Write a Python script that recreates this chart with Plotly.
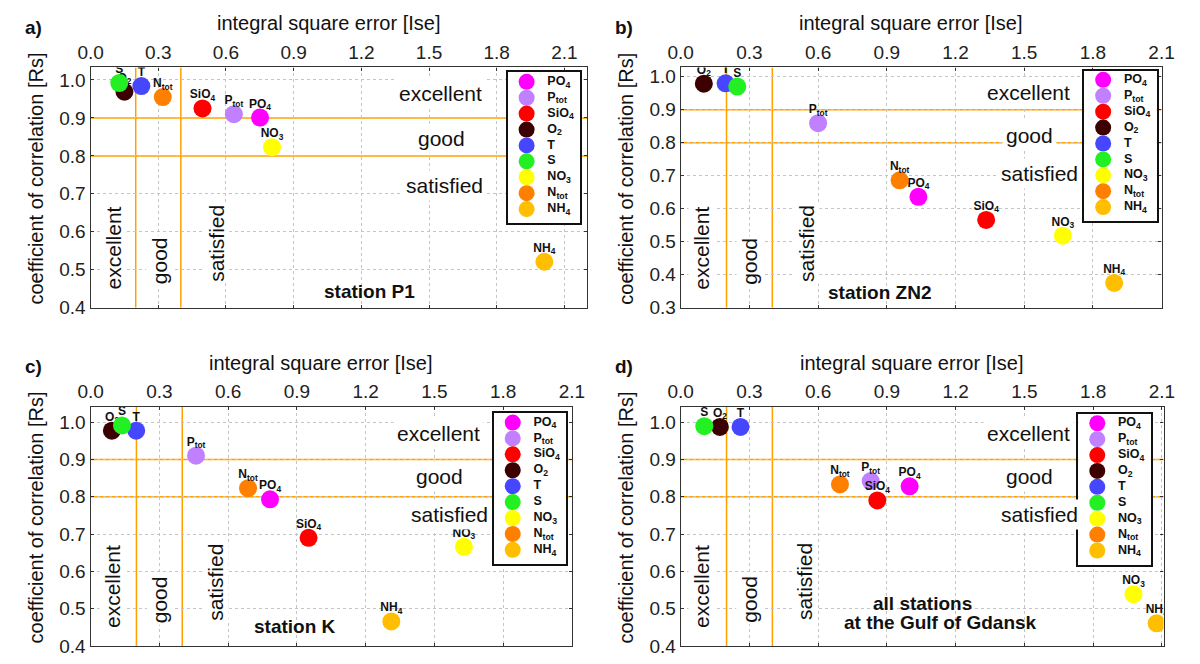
import plotly.graph_objects as go

# ---------------- data ----------------
species = ["PO<sub>4</sub>", "P<sub>tot</sub>", "SiO<sub>4</sub>", "O<sub>2</sub>", "T", "S",
           "NO<sub>3</sub>", "N<sub>tot</sub>", "NH<sub>4</sub>"]
colors = ["#ff00ff", "#c080ff", "#ff0000", "#3d0000", "#4646ff", "#22f022",
          "#ffff00", "#ff8000", "#ffbf00"]

# station P1  (a)
ise_p1 = [0.751, 0.635, 0.496, 0.150, 0.225, 0.127, 0.804, 0.320, 2.011]
rs_p1 = [0.901, 0.910, 0.925, 0.969, 0.984, 0.992, 0.823, 0.955, 0.521]
# station ZN2 (b)
ise_zn2 = [1.038, 0.600, 1.334, 0.101, 0.196, 0.247, 1.669, 0.956, 1.893]
rs_zn2 = [0.636, 0.859, 0.566, 0.979, 0.980, 0.970, 0.518, 0.686, 0.375]
# station K (c)
ise_k = [0.783, 0.460, 0.951, 0.093, 0.199, 0.137, 1.629, 0.687, 1.312]
rs_k = [0.793, 0.910, 0.690, 0.977, 0.977, 0.991, 0.666, 0.823, 0.466]
# all stations (d)
ise_all = [0.999, 0.829, 0.858, 0.171, 0.261, 0.103, 1.976, 0.695, 2.077]
rs_all = [0.828, 0.842, 0.790, 0.987, 0.987, 0.989, 0.539, 0.833, 0.461]

x_ticks = [0.0, 0.3, 0.6, 0.9, 1.2, 1.5, 1.8, 2.1]
y_ticks_a = [0.4, 0.5, 0.6, 0.7, 0.8, 0.9, 1.0]
y_ticks_b = [0.3, 0.4, 0.5, 0.6, 0.7, 0.8, 0.9, 1.0]
rs_limits = [0.9, 0.8]      # excellent / good thresholds of Rs
ise_limits = [0.2, 0.4]     # excellent / good thresholds of Ise

W, H = 1200, 664
FONT = "Liberation Sans, Arial, sans-serif"
ORANGE = "#ffa000"
INK = "#111"

panels = [
    dict(ise=ise_p1, rs=rs_p1, tag="a)",
         xpx=(79.3, 586.7), ypx=(67.7, 312.3), xr=[0, 2.2], yr=[0.4, 1.033], yt=y_ticks_a,
         leg=(505.7, 72.8), zone=[(1.55, 0.892), (1.553, 0.705), (1.567, 0.509)],
         vz=[0.10, 0.305, 0.555], st=[("station P1", 1.238, 0.068)]),
    dict(ise=ise_zn2, rs=rs_zn2, tag="b)",
         xpx=(682.5, 1174), ypx=(67.7, 312.3), xr=[0, 2.1], yr=[0.3, 1.028], yt=y_ticks_b,
         leg=(1095, 70.8), zone=[(1.52, 0.895), (1.525, 0.718), (1.569, 0.557)],
         vz=[0.09, 0.302, 0.547], st=[("station ZN2", 0.866, 0.065)]),
    dict(ise=ise_k, rs=rs_k, tag="c)",
         xpx=(79.3, 571.3), ypx=(413.2, 657.0), xr=[0, 2.1], yr=[0.4, 1.041], yt=y_ticks_a,
         leg=(491.5, 419.8), zone=[(1.518, 0.887), (1.522, 0.710), (1.567, 0.551)],
         vz=[0.098, 0.302, 0.547], st=[("station K", 0.893, 0.084)]),
    dict(ise=ise_all, rs=rs_all, tag="d)",
         xpx=(682.5, 1176), ypx=(413.2, 657.0), xr=[0, 2.107], yr=[0.4, 1.041], yt=y_ticks_a,
         leg=(1089, 420.5), zone=[(1.518, 0.887), (1.522, 0.710), (1.567, 0.551)],
         vz=[0.093, 0.299, 0.543],
         st=[("all stations", 1.053, 0.177), ("at the Gulf of Gdansk", 1.134, 0.098)]),
]

LEG_W, LEG_H = 74.0, 153.5      # legend box size in px
LEG_ROW = 16.2                  # px between legend rows

fig = go.Figure()
layout = dict(width=W, height=H, margin=dict(l=0, r=0, t=0, b=0),
              paper_bgcolor="white", plot_bgcolor="white",
              font=dict(family=FONT, color=INK), showlegend=False)
annotations = []
shapes = []


def ann(**kw):
    d = dict(showarrow=False, xanchor="center", yanchor="middle")
    d.update(kw)
    annotations.append(d)


for k, p in enumerate(panels):
    sx = "" if k == 0 else str(k + 1)
    xa, ya = "x" + sx, "y" + sx
    x0, x1 = p["xpx"]
    ytop, ybot = p["ypx"]
    y0d, y1d = p["yr"]

    # ----- data points (circle, then its label) -----
    for i, name in enumerate(species):
        fig.add_trace(go.Scatter(
            x=[p["ise"][i]], y=[p["rs"][i]], mode="markers",
            marker=dict(size=18, color=colors[i], line=dict(width=0)),
            name=name, xaxis=xa, yaxis=ya, hoverinfo="skip"))
        fig.add_trace(go.Scatter(
            x=[p["ise"][i]], y=[p["rs"][i]], mode="markers+text",
            text=["<b>" + name + "</b>"], textposition="top center",
            textfont=dict(size=12, color=INK, family=FONT),
            marker=dict(size=9.6, color=colors[i], opacity=0),
            name=name + " label", xaxis=xa, yaxis=ya, hoverinfo="skip"))

    common = dict(showgrid=True, gridcolor="#c4c4c4", griddash="dot", gridwidth=1,
                  showline=True, linecolor="#333", linewidth=1.2, mirror="ticks",
                  ticks="inside", ticklen=3, tickcolor="#333", zeroline=False,
                  tickfont=dict(size=19, color="#222", family=FONT), fixedrange=True)
    layout["xaxis" + sx] = dict(
        domain=[x0 / W, x1 / W], range=p["xr"], anchor=ya, side="top",
        tickvals=x_ticks, ticktext=["%.1f" % v for v in x_ticks], **common)
    layout["yaxis" + sx] = dict(
        domain=[1 - ybot / H, 1 - ytop / H], range=p["yr"], anchor=xa,
        tickvals=p["yt"], ticktext=["%.1f" % v for v in p["yt"]], **common)

    # ----- legend box (inset axes) -----
    lx = "x" + str(5 + k)
    ly = "y" + str(5 + k)
    lx0, ly0 = p["leg"]
    rows = list(range(len(species)))
    pad_top = 9.5 / LEG_ROW
    pad_bot = (LEG_H - 9.5) / LEG_ROW - (len(species) - 1)
    box = dict(showgrid=False, zeroline=False, showticklabels=False, ticks="",
               showline=True, mirror=True, linecolor=INK, linewidth=1.5, fixedrange=True)
    layout["xaxis" + str(5 + k)] = dict(domain=[lx0 / W, (lx0 + LEG_W) / W], range=[0, 1],
                                        anchor=ly, **box)
    layout["yaxis" + str(5 + k)] = dict(domain=[1 - (ly0 + LEG_H) / H, 1 - ly0 / H],
                                        range=[len(species) - 1 + pad_bot, -pad_top],
                                        anchor=lx, **box)
    fig.add_trace(go.Scatter(
        x=[19.3 / LEG_W] * len(species), y=rows, mode="markers",
        marker=dict(size=16, color=colors, line=dict(width=0)),
        xaxis=lx, yaxis=ly, hoverinfo="skip", cliponaxis=False, name="legend"))
    fig.add_trace(go.Scatter(
        x=[40.5 / LEG_W] * len(species), y=rows, mode="text",
        text=["<b>" + s + "</b>" for s in species], textposition="middle right",
        textfont=dict(size=12.5, color=INK, family=FONT),
        xaxis=lx, yaxis=ly, hoverinfo="skip", cliponaxis=False, name="legend text"))

    # ----- threshold lines -----
    for v in rs_limits:
        shapes.append(dict(type="line", xref=xa, yref=ya,
                           x0=p["xr"][0], x1=p["xr"][1], y0=v, y1=v, layer="below",
                           line=dict(color=ORANGE, width=1.5)))
    for v in ise_limits:
        shapes.append(dict(type="line", xref=xa, yref=ya,
                           x0=v, x1=v, y0=y0d, y1=y1d, layer="below",
                           line=dict(color=ORANGE, width=1.5)))

    def ydom(f):
        return y0d + f * (y1d - y0d)

    # zone labels (horizontal)
    for (zx, zy), txt in zip(p["zone"], ["excellent", "good", "satisfied"]):
        ann(text=txt, x=zx, y=ydom(zy), xref=xa, yref=ya, bgcolor="white", borderpad=3,
            font=dict(size=21, color=INK, family=FONT))
    # zone labels (vertical)
    for vx, vy, txt in zip(p["vz"], [0.247, 0.195, 0.269], ["excellent", "good", "satisfied"]):
        ann(text=txt, x=vx, y=ydom(vy), xref=xa, yref=ya, textangle=-90, bgcolor="white",
            font=dict(size=21, color=INK, family=FONT))
    # station label
    for txt, stx, sty in p["st"]:
        ann(text="<b>" + txt + "</b>", x=stx, y=ydom(sty), xref=xa, yref=ya,
            font=dict(size=19, color=INK, family=FONT))

    # axis titles
    ann(text="integral square error [Ise]", x=((x0 + x1) / 2 - 11) / W,
        y=1 - (ytop - 45) / H, xref="paper", yref="paper",
        font=dict(size=20, color=INK, family=FONT))
    ann(text="coefficient of correlation [Rs]", x=(x0 - 56) / W,
        y=1 - ((ytop + ybot) / 2 - 9) / H, xref="paper", yref="paper", textangle=-90,
        font=dict(size=20, color=INK, family=FONT))
    # panel tag
    ann(text="<b>" + p["tag"] + "</b>", x=(x0 - 58) / W, y=1 - (ytop - 41) / H,
        xref="paper", yref="paper", font=dict(size=19, color=INK, family=FONT))

layout["annotations"] = annotations
layout["shapes"] = shapes
fig.update_layout(**layout)
fig.write_html("out.html", config={"displayModeBar": False})
